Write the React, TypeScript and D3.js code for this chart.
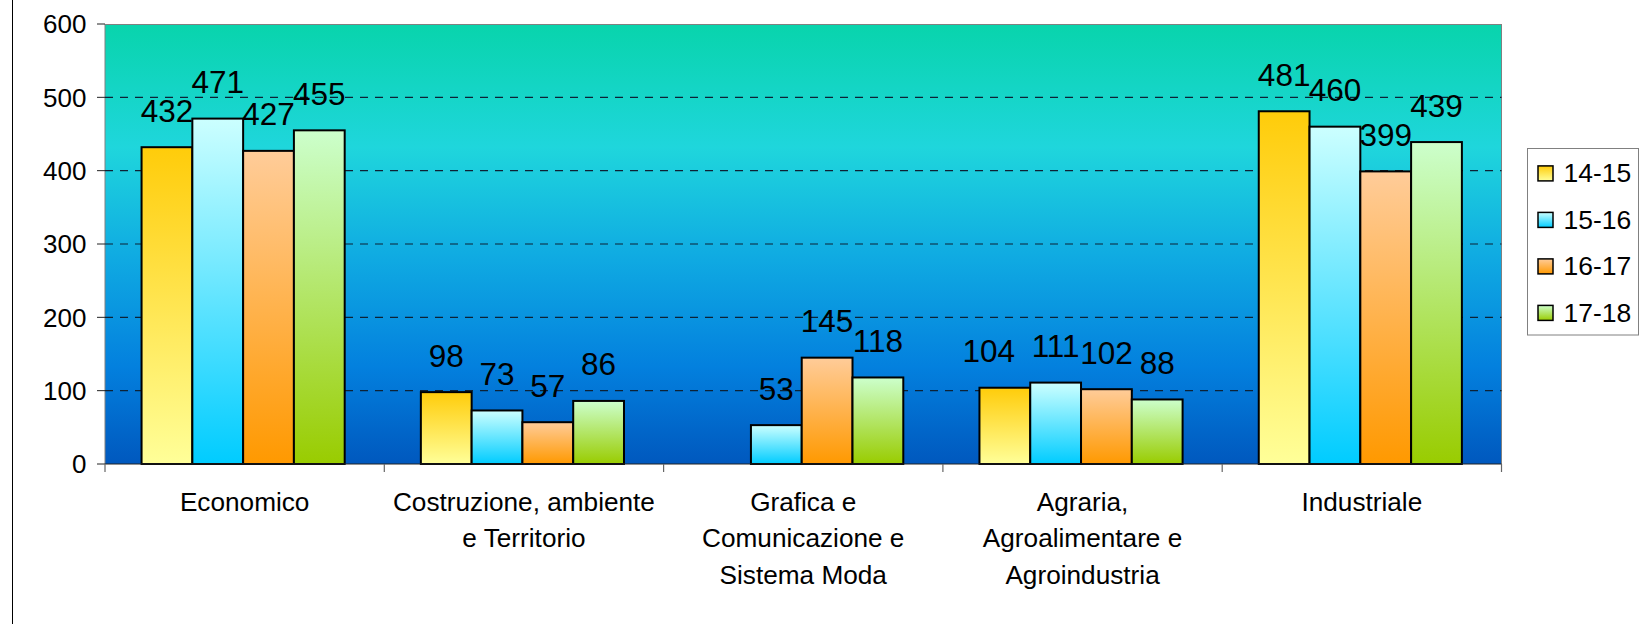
import React from "react";
import * as d3 from "d3";

const categories: string[][] = [
  ["Economico"],
  ["Costruzione, ambiente", "e Territorio"],
  ["Grafica e", "Comunicazione e", "Sistema Moda"],
  ["Agraria,", "Agroalimentare e", "Agroindustria"],
  ["Industriale"],
];
const seriesNames = ["14-15", "15-16", "16-17", "17-18"];
const s1415: (number | null)[] = [432, 98, null, 104, 481];
const s1516: (number | null)[] = [471, 73, 53, 111, 460];
const s1617: (number | null)[] = [427, 57, 145, 102, 399];
const s1718: (number | null)[] = [455, 86, 118, 88, 439];
const yTicks = [0, 100, 200, 300, 400, 500, 600];

const seriesValues = [s1415, s1516, s1617, s1718];
const seriesColors = [
  ["#FFCC0A", "#FFFF99"],
  ["#CCFFFF", "#00CCFF"],
  ["#FFCC99", "#FF9900"],
  ["#CCFFCC", "#99CC00"],
];
// manual label nudges (category index - series index -> dx px)
const labelNudge: Record<string, number> = { "3-0": -16 };

const W = 1642;
const H = 624;
const L = 105;
const R = 1501.5;
const T = 24;
const B = 464;
const FONT = "'Liberation Sans', Arial, sans-serif";

export default function App() {
  const catKeys = categories.map((c) => c.join(" "));
  const x0 = d3.scaleBand<string>().domain(catKeys).range([L, R]).padding(0);
  const band = x0.bandwidth();
  const bw = band / 5.5;
  const off = 0.72 * bw;
  const x1 = d3
    .scaleBand<string>()
    .domain(seriesNames)
    .range([off, off + 4 * bw])
    .padding(0);
  const y = d3.scaleLinear().domain([0, 600]).range([B, T]);

  return (
    <div style={{ position: "absolute", left: 0, top: 0 }}>
      <svg width={W} height={H} style={{ display: "block", fontFamily: FONT }}>
        <defs>
          <linearGradient id="bg" x1="0" y1="0" x2="0" y2="1">
            <stop offset="0" stopColor="#08D4AC" />
            <stop offset="0.28" stopColor="#1FD6DC" />
            <stop offset="0.52" stopColor="#10ACE2" />
            <stop offset="0.78" stopColor="#0380DE" />
            <stop offset="1" stopColor="#0058BE" />
          </linearGradient>
          {seriesColors.map((c, i) => (
            <linearGradient key={i} id={`g${i}`} x1="0" y1="0" x2="0" y2="1">
              <stop offset="0" stopColor={c[0]} />
              <stop offset="1" stopColor={c[1]} />
            </linearGradient>
          ))}
        </defs>
        <rect x={0} y={0} width={W} height={H} fill="#fff" />
        <line x1={12.5} x2={12.5} y1={0} y2={H} stroke="#000" strokeWidth={1} />

        {/* plot area */}
        <rect x={L} y={T} width={R - L} height={B - T} fill="url(#bg)" />
        <line x1={L} x2={R} y1={T + 0.5} y2={T + 0.5} stroke="#808080" strokeWidth={1} />
        <line x1={R} x2={R} y1={T} y2={B} stroke="#808080" strokeWidth={1} />
        <line x1={L} x2={L} y1={T} y2={B} stroke="#808080" strokeWidth={1} />

        {/* gridlines */}
        {yTicks
          .filter((t) => t > 0 && t < 600)
          .map((t) => (
            <line
              key={t}
              x1={L}
              x2={R}
              y1={y(t)}
              y2={y(t)}
              stroke="#0d2236"
              strokeWidth={1.2}
              strokeDasharray="8,7"
            />
          ))}

        {/* bars */}
        {seriesValues.map((vals, si) =>
          vals.map((v, ci) => {
            if (v == null) return null;
            const bx = (x0(catKeys[ci]) as number) + (x1(seriesNames[si]) as number);
            return (
              <rect
                key={`${si}-${ci}`}
                x={bx}
                y={y(v)}
                width={x1.bandwidth()}
                height={B - y(v)}
                fill={`url(#g${si})`}
                stroke="#000"
                strokeWidth={2}
              />
            );
          })
        )}

        {/* axes */}
        <line x1={L} x2={R} y1={B} y2={B} stroke="#222" strokeWidth={1.2} />
        {yTicks.map((t) => (
          <g key={t}>
            <line x1={L - 8} x2={L} y1={y(t)} y2={y(t)} stroke="#222" strokeWidth={1} />
            <text
              x={86.5}
              y={y(t) + 9.2}
              textAnchor="end"
              fontSize={26}
              fill="#000"
            >
              {t}
            </text>
          </g>
        ))}
        {d3.range(catKeys.length + 1).map((i) => {
          const xx = i < catKeys.length ? (x0(catKeys[i]) as number) : R;
          return (
            <line key={i} x1={xx} x2={xx} y1={B} y2={B + 8} stroke="#666" strokeWidth={1.2} />
          );
        })}
        {categories.map((lines, ci) => {
          const cx = (x0(catKeys[ci]) as number) + band / 2;
          return (
            <text key={ci} textAnchor="middle" fontSize={26.2} fill="#000">
              {lines.map((ln, li) => (
                <tspan key={li} x={cx} y={511 + li * 36.4}>
                  {ln}
                </tspan>
              ))}
            </text>
          );
        })}

        {/* data labels */}
        {seriesValues.map((vals, si) =>
          vals.map((v, ci) => {
            if (v == null) return null;
            const cx =
              (x0(catKeys[ci]) as number) +
              (x1(seriesNames[si]) as number) +
              x1.bandwidth() / 2 +
              (labelNudge[`${ci}-${si}`] ?? 0);
            return (
              <text
                key={`l${si}-${ci}`}
                x={cx}
                y={y(v) - 25.5}
                textAnchor="middle"
                fontSize={31.5}
                fill="#000"
              >
                {v}
              </text>
            );
          })
        )}

        {/* legend */}
        <rect x={1527.5} y={148.5} width={111} height={186.5} fill="#fff" stroke="#808080" strokeWidth={1} />
        {seriesNames.map((s, i) => {
          const cy = 173.4 + i * 46.5;
          return (
            <g key={s}>
              <rect
                x={1538}
                y={cy - 7.5}
                width={15}
                height={15}
                fill={`url(#g${i})`}
                stroke="#000"
                strokeWidth={1.5}
              />
              <text x={1563.5} y={cy + 9} fontSize={26.5} fill="#000">
                {s}
              </text>
            </g>
          );
        })}
      </svg>
    </div>
  );
}
